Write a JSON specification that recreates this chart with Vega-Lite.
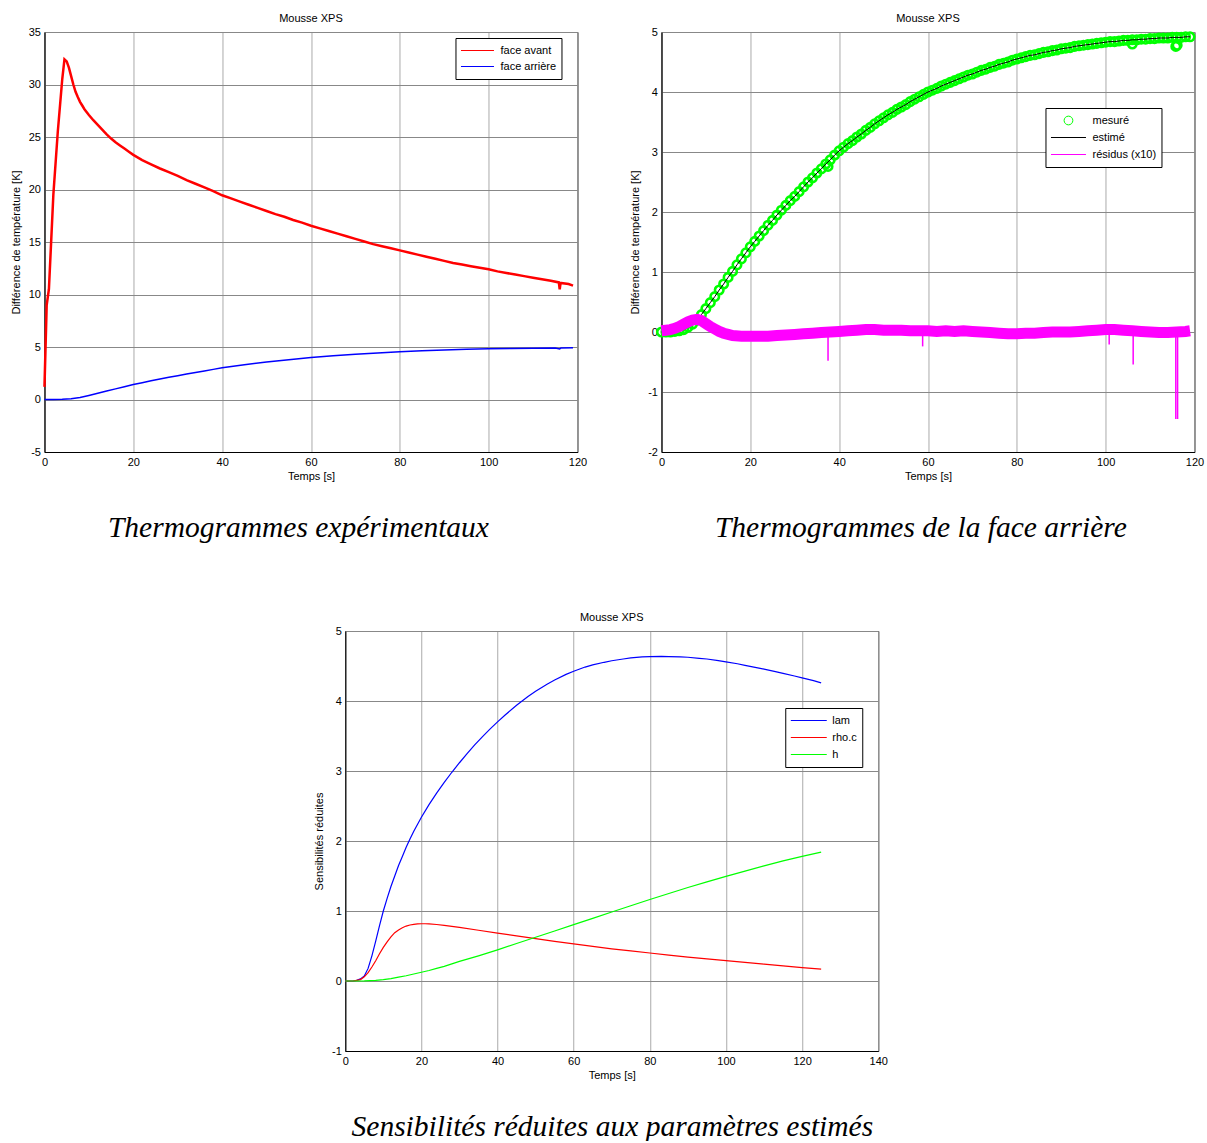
{
  "$schema": "https://vega.github.io/schema/vega-lite/v6.json",
  "padding": {"left": 9, "top": 12, "right": 0, "bottom": 0},
  "background": "white",
  "config": {
    "font": "Liberation Sans",
    "view": {"stroke": "black", "strokeWidth": 1},
    "axis": {
      "labelFont": "Liberation Sans", "labelFontSize": 11, "labelColor": "black",
      "titleFont": "Liberation Sans", "titleFontSize": 11, "titleFontWeight": "normal", "titleColor": "black",
      "domainColor": "black", "ticks": false, "labelPadding": 4, "labelFlush": false, "labelOverlap": false,
      "gridOpacity": 1, "gridWidth": 1, "labelExpr": "'' + datum.value"
    },
    "axisX": {"gridColor": "#aaaaaa", "titlePadding": 3},
    "axisY": {"gridColor": "#888888", "titlePadding": 7}
  },
  "datasets": {
    "A_av": [
      {"t":0,"v":1.2},{"t":0.5,"v":9},{"t":1,"v":10.5},{"t":2,"v":19.5},{"t":3,"v":25.5},{"t":4,"v":30.5},{"t":4.5,"v":32.4},{"t":5,"v":32.2},{"t":5.5,"v":31.6},{"t":6,"v":30.8},{"t":6.5,"v":30.0},{"t":7,"v":29.3},{"t":7.5,"v":28.8},{"t":8,"v":28.35},{"t":8.5,"v":28.0},{"t":9,"v":27.65},{"t":10,"v":27.1},{"t":11,"v":26.6},{"t":12,"v":26.15},{"t":13,"v":25.7},{"t":14,"v":25.25},{"t":15,"v":24.85},{"t":16,"v":24.5},{"t":17,"v":24.2},{"t":18,"v":23.9},{"t":19,"v":23.6},{"t":20,"v":23.3},{"t":22,"v":22.8},{"t":24,"v":22.4},{"t":26,"v":22.0},{"t":28,"v":21.65},{"t":30,"v":21.3},{"t":32,"v":20.9},{"t":34,"v":20.55},{"t":36,"v":20.2},{"t":38,"v":19.85},{"t":40,"v":19.45},{"t":42,"v":19.15},{"t":44,"v":18.85},{"t":46,"v":18.55},{"t":48,"v":18.25},{"t":50,"v":17.95},{"t":52,"v":17.65},{"t":54,"v":17.4},{"t":56,"v":17.1},{"t":58,"v":16.85},{"t":60,"v":16.55},{"t":62,"v":16.3},{"t":64,"v":16.05},{"t":66,"v":15.8},{"t":68,"v":15.55},{"t":70,"v":15.3},{"t":72,"v":15.05},{"t":74,"v":14.8},{"t":76,"v":14.6},{"t":78,"v":14.4},{"t":80,"v":14.2},{"t":82,"v":14.0},{"t":84,"v":13.8},{"t":86,"v":13.6},{"t":88,"v":13.4},{"t":90,"v":13.2},{"t":92,"v":13.0},{"t":94,"v":12.85},{"t":96,"v":12.7},{"t":98,"v":12.55},{"t":100,"v":12.4},{"t":102,"v":12.2},{"t":104,"v":12.05},{"t":106,"v":11.9},{"t":108,"v":11.75},{"t":110,"v":11.6},{"t":112,"v":11.45},{"t":114,"v":11.3},{"t":115.8,"v":11.15},{"t":116,"v":10.5},{"t":116.2,"v":11.1},{"t":118,"v":11.0},{"t":119,"v":10.85}
    ],
    "A_ar": [
      {"t":0,"v":0},{"t":2,"v":0},{"t":4,"v":0.02},{"t":6,"v":0.08},{"t":8,"v":0.2},{"t":10,"v":0.39},{"t":12,"v":0.59},{"t":14,"v":0.8},{"t":16,"v":1.01},{"t":18,"v":1.22},{"t":20,"v":1.42},{"t":22,"v":1.6},{"t":24,"v":1.78},{"t":26,"v":1.95},{"t":28,"v":2.11},{"t":30,"v":2.26},{"t":32,"v":2.42},{"t":34,"v":2.57},{"t":36,"v":2.72},{"t":38,"v":2.87},{"t":40,"v":3.02},{"t":45,"v":3.3},{"t":50,"v":3.57},{"t":55,"v":3.79},{"t":60,"v":4.0},{"t":65,"v":4.16},{"t":70,"v":4.3},{"t":75,"v":4.43},{"t":80,"v":4.55},{"t":85,"v":4.64},{"t":90,"v":4.72},{"t":95,"v":4.78},{"t":100,"v":4.83},{"t":105,"v":4.86},{"t":110,"v":4.89},{"t":115,"v":4.91},{"t":116,"v":4.82},{"t":116.3,"v":4.91},{"t":119,"v":4.92}
    ],
    "B_mes": [
      {"t":0,"v":0.0},{"t":1,"v":0.0},{"t":2,"v":0.0},{"t":3,"v":0.01},{"t":4,"v":0.02},{"t":5,"v":0.04},{"t":6,"v":0.08},{"t":7,"v":0.13},{"t":8,"v":0.2},{"t":9,"v":0.29},{"t":10,"v":0.39},{"t":11,"v":0.49},{"t":12,"v":0.59},{"t":13,"v":0.7},{"t":14,"v":0.8},{"t":15,"v":0.91},{"t":16,"v":1.01},{"t":17,"v":1.12},{"t":18,"v":1.22},{"t":19,"v":1.32},{"t":20,"v":1.42},{"t":21,"v":1.51},{"t":22,"v":1.6},{"t":23,"v":1.69},{"t":24,"v":1.78},{"t":25,"v":1.86},{"t":26,"v":1.95},{"t":27,"v":2.03},{"t":28,"v":2.11},{"t":29,"v":2.19},{"t":30,"v":2.26},{"t":31,"v":2.34},{"t":32,"v":2.42},{"t":33,"v":2.5},{"t":34,"v":2.57},{"t":35,"v":2.65},{"t":36,"v":2.72},{"t":37,"v":2.8},{"t":38,"v":2.87},{"t":39,"v":2.95},{"t":40,"v":3.02},{"t":41,"v":3.08},{"t":42,"v":3.14},{"t":43,"v":3.19},{"t":44,"v":3.25},{"t":45,"v":3.3},{"t":46,"v":3.36},{"t":47,"v":3.41},{"t":48,"v":3.47},{"t":49,"v":3.52},{"t":50,"v":3.57},{"t":51,"v":3.62},{"t":52,"v":3.66},{"t":53,"v":3.71},{"t":54,"v":3.75},{"t":55,"v":3.79},{"t":56,"v":3.84},{"t":57,"v":3.88},{"t":58,"v":3.92},{"t":59,"v":3.96},{"t":60,"v":4.0},{"t":61,"v":4.03},{"t":62,"v":4.06},{"t":63,"v":4.1},{"t":64,"v":4.13},{"t":65,"v":4.16},{"t":66,"v":4.19},{"t":67,"v":4.22},{"t":68,"v":4.25},{"t":69,"v":4.28},{"t":70,"v":4.3},{"t":71,"v":4.33},{"t":72,"v":4.36},{"t":73,"v":4.38},{"t":74,"v":4.41},{"t":75,"v":4.43},{"t":76,"v":4.46},{"t":77,"v":4.48},{"t":78,"v":4.5},{"t":79,"v":4.53},{"t":80,"v":4.55},{"t":81,"v":4.57},{"t":82,"v":4.59},{"t":83,"v":4.61},{"t":84,"v":4.62},{"t":85,"v":4.64},{"t":86,"v":4.66},{"t":87,"v":4.67},{"t":88,"v":4.69},{"t":89,"v":4.7},{"t":90,"v":4.72},{"t":91,"v":4.73},{"t":92,"v":4.74},{"t":93,"v":4.76},{"t":94,"v":4.77},{"t":95,"v":4.78},{"t":96,"v":4.79},{"t":97,"v":4.8},{"t":98,"v":4.81},{"t":99,"v":4.82},{"t":100,"v":4.83},{"t":101,"v":4.84},{"t":102,"v":4.84},{"t":103,"v":4.85},{"t":104,"v":4.86},{"t":105,"v":4.86},{"t":106,"v":4.87},{"t":107,"v":4.87},{"t":108,"v":4.88},{"t":109,"v":4.88},{"t":110,"v":4.89},{"t":111,"v":4.89},{"t":112,"v":4.9},{"t":113,"v":4.9},{"t":114,"v":4.9},{"t":115,"v":4.91},{"t":116,"v":4.91},{"t":117,"v":4.91},{"t":118,"v":4.92},{"t":119,"v":4.92}
    ],
    "B_out": [
      {"t":37.5,"v":2.76},{"t":106,"v":4.8},{"t":115.8,"v":4.76},{"t":116.1,"v":4.78}
    ],
    "B_res": [
      {"t":0,"v":0.02},{"t":1,"v":0.03},{"t":2,"v":0.04},{"t":3,"v":0.06},{"t":4,"v":0.09},{"t":5,"v":0.13},{"t":6,"v":0.17},{"t":7,"v":0.2},{"t":8,"v":0.21},{"t":9,"v":0.19},{"t":10,"v":0.14},{"t":11,"v":0.09},{"t":12,"v":0.05},{"t":13,"v":0.01},{"t":14,"v":-0.02},{"t":15,"v":-0.04},{"t":16,"v":-0.06},{"t":18,"v":-0.07},{"t":20,"v":-0.07},{"t":22,"v":-0.07},{"t":24,"v":-0.07},{"t":26,"v":-0.06},{"t":28,"v":-0.05},{"t":30,"v":-0.04},{"t":32,"v":-0.03},{"t":34,"v":-0.02},{"t":36,"v":-0.01},{"t":38,"v":0.0},{"t":40,"v":0.01},{"t":42,"v":0.02},{"t":44,"v":0.03},{"t":46,"v":0.04},{"t":48,"v":0.04},{"t":50,"v":0.03},{"t":52,"v":0.03},{"t":54,"v":0.03},{"t":56,"v":0.02},{"t":58,"v":0.02},{"t":60,"v":0.02},{"t":62,"v":0.01},{"t":64,"v":0.02},{"t":66,"v":0.01},{"t":68,"v":0.02},{"t":70,"v":0.01},{"t":72,"v":0.0},{"t":74,"v":-0.01},{"t":76,"v":-0.02},{"t":78,"v":-0.03},{"t":80,"v":-0.03},{"t":82,"v":-0.02},{"t":84,"v":-0.02},{"t":86,"v":-0.01},{"t":88,"v":0.0},{"t":90,"v":0.0},{"t":92,"v":0.0},{"t":94,"v":0.01},{"t":96,"v":0.02},{"t":98,"v":0.03},{"t":100,"v":0.04},{"t":102,"v":0.04},{"t":104,"v":0.03},{"t":106,"v":0.02},{"t":108,"v":0.01},{"t":110,"v":0.0},{"t":112,"v":-0.01},{"t":114,"v":-0.01},{"t":116,"v":0.0},{"t":118,"v":0.01},{"t":119,"v":0.02}
    ],
    "B_spk": [
      {"t":37.5,"v":-0.48},{"t":58.8,"v":-0.24},{"t":100.8,"v":-0.21},{"t":106.2,"v":-0.54},{"t":115.8,"v":-1.45},{"t":116.2,"v":-1.45}
    ],
    "C_lam": [
      {"t":0,"v":0},{"t":2,"v":0},{"t":3,"v":0.01},{"t":4,"v":0.03},{"t":5,"v":0.07},{"t":6,"v":0.18},{"t":7,"v":0.36},{"t":8,"v":0.57},{"t":9,"v":0.79},{"t":10,"v":1.0},{"t":11,"v":1.18},{"t":12,"v":1.35},{"t":13,"v":1.5},{"t":14,"v":1.65},{"t":15,"v":1.78},{"t":16,"v":1.91},{"t":17,"v":2.03},{"t":18,"v":2.14},{"t":19,"v":2.24},{"t":20,"v":2.34},{"t":22,"v":2.52},{"t":24,"v":2.684},{"t":26,"v":2.838},{"t":28,"v":2.982},{"t":30,"v":3.118},{"t":32,"v":3.248},{"t":34,"v":3.372},{"t":36,"v":3.488},{"t":38,"v":3.598},{"t":40,"v":3.702},{"t":42,"v":3.8},{"t":45,"v":3.94},{"t":48,"v":4.065},{"t":50,"v":4.14},{"t":53,"v":4.24},{"t":55,"v":4.3},{"t":58,"v":4.38},{"t":60,"v":4.425},{"t":63,"v":4.485},{"t":65,"v":4.515},{"t":68,"v":4.553},{"t":70,"v":4.575},{"t":73,"v":4.6},{"t":75,"v":4.615},{"t":78,"v":4.63},{"t":80,"v":4.635},{"t":83,"v":4.637},{"t":85,"v":4.635},{"t":88,"v":4.63},{"t":90,"v":4.625},{"t":93,"v":4.61},{"t":95,"v":4.6},{"t":98,"v":4.578},{"t":100,"v":4.56},{"t":103,"v":4.532},{"t":105,"v":4.51},{"t":108,"v":4.478},{"t":110,"v":4.455},{"t":113,"v":4.42},{"t":115,"v":4.395},{"t":118,"v":4.357},{"t":120,"v":4.33},{"t":123,"v":4.29},{"t":125,"v":4.26}
    ],
    "C_rho": [
      {"t":0,"v":0},{"t":2,"v":0},{"t":3,"v":0.01},{"t":4,"v":0.02},{"t":5,"v":0.06},{"t":6,"v":0.12},{"t":7,"v":0.2},{"t":8,"v":0.29},{"t":9,"v":0.39},{"t":10,"v":0.48},{"t":11,"v":0.56},{"t":12,"v":0.63},{"t":13,"v":0.69},{"t":14,"v":0.73},{"t":15,"v":0.76},{"t":16,"v":0.785},{"t":17,"v":0.8},{"t":18,"v":0.81},{"t":19,"v":0.815},{"t":20,"v":0.818},{"t":21,"v":0.818},{"t":22,"v":0.815},{"t":24,"v":0.807},{"t":26,"v":0.795},{"t":28,"v":0.78},{"t":30,"v":0.765},{"t":35,"v":0.725},{"t":40,"v":0.685},{"t":45,"v":0.645},{"t":50,"v":0.605},{"t":55,"v":0.565},{"t":60,"v":0.53},{"t":65,"v":0.495},{"t":70,"v":0.46},{"t":75,"v":0.43},{"t":80,"v":0.4},{"t":85,"v":0.37},{"t":90,"v":0.34},{"t":95,"v":0.315},{"t":100,"v":0.29},{"t":105,"v":0.265},{"t":110,"v":0.24},{"t":115,"v":0.215},{"t":120,"v":0.19},{"t":125,"v":0.17}
    ],
    "C_h": [
      {"t":0,"v":0},{"t":5,"v":0.003},{"t":8,"v":0.01},{"t":10,"v":0.02},{"t":12,"v":0.035},{"t":14,"v":0.055},{"t":16,"v":0.075},{"t":18,"v":0.1},{"t":20,"v":0.125},{"t":22,"v":0.15},{"t":24,"v":0.18},{"t":26,"v":0.21},{"t":28,"v":0.245},{"t":30,"v":0.28},{"t":35,"v":0.36},{"t":40,"v":0.445},{"t":45,"v":0.535},{"t":50,"v":0.625},{"t":55,"v":0.715},{"t":60,"v":0.805},{"t":65,"v":0.895},{"t":70,"v":0.985},{"t":75,"v":1.075},{"t":80,"v":1.165},{"t":85,"v":1.25},{"t":90,"v":1.335},{"t":95,"v":1.415},{"t":100,"v":1.495},{"t":105,"v":1.57},{"t":110,"v":1.645},{"t":115,"v":1.715},{"t":120,"v":1.78},{"t":125,"v":1.84}
    ]
  },
  "vconcat": [
    {
      "hconcat": [
        {
          "title": {"text": "Thermogrammes expérimentaux", "orient": "bottom", "anchor": "middle", "frame": "bounds", "font": "Liberation Serif", "fontStyle": "italic", "fontSize": 29.5, "fontWeight": "normal", "offset": 32, "color": "black"},
          "vconcat": [
            {
              "title": {"text": "Mousse XPS", "font": "Liberation Sans", "fontSize": 11, "fontWeight": "normal", "frame": "group", "anchor": "middle", "offset": 2, "color": "black"},
              "width": 533,
              "height": 420,
              "encoding": {
                "x": {"field": "t", "type": "quantitative", "scale": {"domain": [0, 120], "nice": false}, "axis": {"title": "Temps [s]", "values": [0, 20, 40, 60, 80, 100, 120]}},
                "y": {"field": "v", "type": "quantitative", "scale": {"domain": [-5, 35], "nice": false, "zero": false}, "axis": {"title": "Différence de température [K]", "values": [-5, 0, 5, 10, 15, 20, 25, 30, 35]}}
              },
              "layer": [
                {
                  "data": {"name": "A_av"},
                  "mark": {"type": "line", "strokeWidth": 2.5},
                  "encoding": {
                    "color": {
                      "datum": "face avant",
                      "scale": {"domain": ["face avant", "face arrière"], "range": ["#ff0000", "#0000ff"]},
                      "legend": {"orient": "none", "legendX": 411, "legendY": 6, "title": null, "strokeColor": "black", "fillColor": "white", "padding": 5, "symbolType": "stroke", "symbolSize": 1089, "symbolStrokeWidth": 1, "clipHeight": 15, "rowPadding": 1, "labelFontSize": 11, "labelFont": "Liberation Sans", "labelColor": "black", "labelOffset": 6,
                        "encode": {"symbols": {"update": {
                          "strokeWidth": {"value": 1},
                          "stroke": {"value": {"expr": "datum.index === 0 ? '#ff0000' : '#0000ff'"}},
                          "opacity": {"value": 1}
                        }}}}
                    }
                  }
                },
                {
                  "data": {"name": "A_ar"},
                  "mark": {"type": "line", "strokeWidth": 1.5},
                  "encoding": {"color": {"datum": "face arrière"}}
                }
              ]
            }
          ]
        },
        {
          "title": {"text": "Thermogrammes de la face arrière", "orient": "bottom", "anchor": "middle", "frame": "bounds", "font": "Liberation Serif", "fontStyle": "italic", "fontSize": 29.5, "fontWeight": "normal", "offset": 32, "color": "black"},
          "vconcat": [
            {
              "title": {"text": "Mousse XPS", "font": "Liberation Sans", "fontSize": 11, "fontWeight": "normal", "frame": "group", "anchor": "middle", "offset": 2, "color": "black"},
              "width": 533,
              "height": 420,
              "encoding": {
                "x": {"field": "t", "type": "quantitative", "scale": {"domain": [0, 120], "nice": false}, "axis": {"title": "Temps [s]", "values": [0, 20, 40, 60, 80, 100, 120]}},
                "y": {"field": "v", "type": "quantitative", "scale": {"domain": [-2, 5], "nice": false, "zero": false}, "axis": {"title": "Différence de température [K]", "values": [-2, -1, 0, 1, 2, 3, 4, 5]}}
              },
              "layer": [
                {
                  "data": {"name": "B_mes"},
                  "mark": {"type": "point", "filled": false, "strokeWidth": 2.6, "size": 1150, "opacity": 1},
                  "encoding": {
                    "color": {
                      "datum": "mesuré",
                      "scale": {"domain": ["mesuré", "estimé", "résidus (x10)"], "range": ["#00ff00", "#000000", "#ff00ff"]},
                      "legend": {"orient": "none", "legendX": 384, "legendY": 76, "title": null, "strokeColor": "black", "fillColor": "white", "padding": 5, "symbolSize": 1225, "symbolStrokeWidth": 1, "clipHeight": 15, "rowPadding": 2, "labelFontSize": 11, "labelFont": "Liberation Sans", "labelColor": "black", "labelOffset": 6,
                        "encode": {"symbols": {"update": {
                          "stroke": {"value": {"expr": "datum.index === 0 ? '#00ff00' : (datum.index === 1 ? '#000000' : '#ff00ff')"}},
                          "strokeWidth": {"value": 1},
                          "fill": {"value": "transparent"},
                          "opacity": {"value": 1}
                        }}}}
                    },
                    "shape": {
                      "datum": "mesuré",
                      "scale": {"domain": ["mesuré", "estimé", "résidus (x10)"], "range": ["M-0.25,0A0.25,0.25 0 1,1 0.25,0A0.25,0.25 0 1,1 -0.25,0Z", "stroke", "stroke"]},
                      "legend": {"orient": "none", "legendX": 384, "legendY": 76, "title": null, "strokeColor": "black", "fillColor": "white", "padding": 5, "symbolSize": 1225, "symbolStrokeWidth": 1, "clipHeight": 15, "rowPadding": 2, "labelFontSize": 11, "labelFont": "Liberation Sans", "labelColor": "black", "labelOffset": 6,
                        "encode": {"symbols": {"update": {
                          "stroke": {"value": {"expr": "datum.index === 0 ? '#00ff00' : (datum.index === 1 ? '#000000' : '#ff00ff')"}},
                          "strokeWidth": {"value": 1},
                          "fill": {"value": "transparent"},
                          "opacity": {"value": 1}
                        }}}}
                    }
                  }
                },
                {
                  "data": {"name": "B_out"},
                  "mark": {"type": "point", "filled": false, "strokeWidth": 2.6, "size": 1150, "opacity": 1},
                  "encoding": {"color": {"datum": "mesuré"}, "shape": {"datum": "mesuré"}}
                },
                {
                  "data": {"name": "B_mes"},
                  "mark": {"type": "line", "strokeWidth": 1},
                  "encoding": {"color": {"datum": "estimé"}}
                },
                {
                  "data": {"name": "B_res"},
                  "mark": {"type": "line", "strokeWidth": 11},
                  "encoding": {"color": {"datum": "résidus (x10)"}}
                },
                {
                  "data": {"name": "B_spk"},
                  "mark": {"type": "rule", "strokeWidth": 1.5},
                  "encoding": {"y2": {"datum": 0}, "color": {"datum": "résidus (x10)"}}
                }
              ]
            }
          ]
        }
      ],
      "spacing": 41,
      "resolve": {"scale": {"color": "independent", "shape": "independent"}, "legend": {"color": "independent", "shape": "independent"}}
    },
    {
      "title": {"text": "Sensibilités réduites aux paramètres estimés", "orient": "bottom", "anchor": "middle", "frame": "bounds", "font": "Liberation Serif", "fontStyle": "italic", "fontSize": 29.5, "fontWeight": "normal", "offset": 32, "color": "black"},
      "vconcat": [
        {
          "title": {"text": "Mousse XPS", "font": "Liberation Sans", "fontSize": 11, "fontWeight": "normal", "frame": "group", "anchor": "middle", "offset": 2, "color": "black"},
          "width": 533,
          "height": 420,
          "encoding": {
            "x": {"field": "t", "type": "quantitative", "scale": {"domain": [0, 140], "nice": false}, "axis": {"title": "Temps [s]", "values": [0, 20, 40, 60, 80, 100, 120, 140]}},
            "y": {"field": "v", "type": "quantitative", "scale": {"domain": [-1, 5], "nice": false, "zero": false}, "axis": {"title": "Sensibilités réduites", "values": [-1, 0, 1, 2, 3, 4, 5]}}
          },
          "layer": [
            {
              "data": {"name": "C_lam"},
              "mark": {"type": "line", "strokeWidth": 1.2},
              "encoding": {
                "color": {
                  "datum": "lam",
                  "scale": {"domain": ["lam", "rho.c", "h"], "range": ["#0000ff", "#ff0000", "#00ff00"]},
                  "legend": {"orient": "none", "legendX": 440, "legendY": 77, "title": null, "strokeColor": "black", "fillColor": "white", "padding": 5, "symbolType": "stroke", "symbolSize": 1296, "symbolStrokeWidth": 1, "clipHeight": 15, "rowPadding": 2, "labelFontSize": 11, "labelFont": "Liberation Sans", "labelColor": "black", "labelOffset": 5,
                    "encode": {"symbols": {"update": {
                      "strokeWidth": {"value": 1},
                      "stroke": {"value": {"expr": "datum.index === 0 ? '#0000ff' : (datum.index === 1 ? '#ff0000' : '#00ff00')"}},
                      "opacity": {"value": 1}
                    }}}}
                }
              }
            },
            {
              "data": {"name": "C_rho"},
              "mark": {"type": "line", "strokeWidth": 1.2},
              "encoding": {
                "color": {"datum": "rho.c"},
                "y": {"field": "v", "type": "quantitative", "axis": {"orient": "right", "labels": false, "ticks": false, "grid": false, "title": null, "domain": true, "domainOpacity": 0, "offset": 33}}
              }
            },
            {
              "data": {"name": "C_h"},
              "mark": {"type": "line", "strokeWidth": 1.2},
              "encoding": {
                "color": {"datum": "h"},
                "y": {"field": "v", "type": "quantitative", "axis": null}
              }
            }
          ],
          "resolve": {"axis": {"y": "independent"}}
        }
      ]
    }
  ],
  "spacing": 69,
  "center": true,
  "resolve": {"scale": {"color": "independent", "shape": "independent"}, "legend": {"color": "independent", "shape": "independent"}}
}
